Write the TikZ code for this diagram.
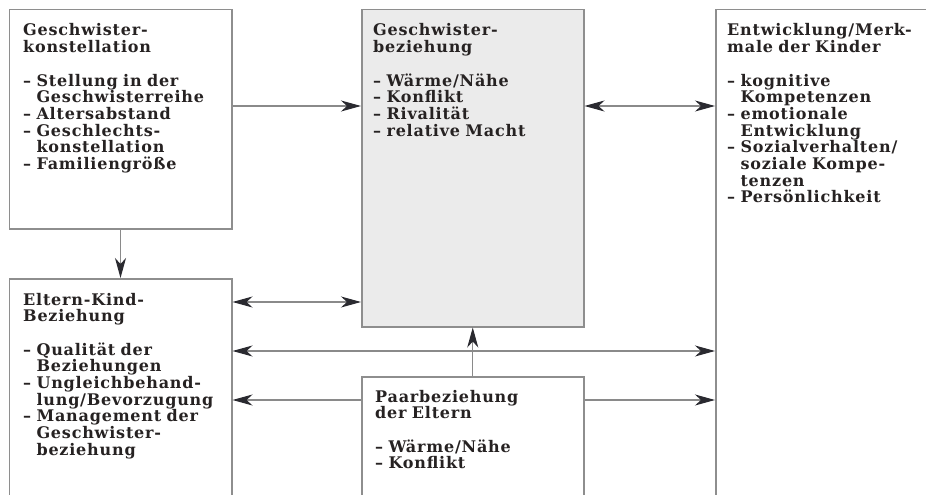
\documentclass[tikz,border=0pt]{standalone}
\usepackage{fontspec}
\setmainfont{DejaVu Serif}[LetterSpace=5]
\usetikzlibrary{arrows.meta,calc}
\definecolor{boxline}{HTML}{8E8E8E}
\definecolor{arrline}{HTML}{8A8A8A}
\definecolor{headcol}{HTML}{2A2A30}
\definecolor{txt}{HTML}{262222}
\definecolor{boxfill}{HTML}{EBEBEB}
\newcommand{\ind}{\phantom{– }}
\begin{document}
\begin{tikzpicture}[x=1pt,y=-1pt,
  boxstyle/.style={draw=boxline,line width=1.5pt,rectangle,inner sep=0pt,anchor=north west},
  txtstyle/.style={anchor=base west,inner sep=0pt,align=left,text width=215pt,text=txt,
    font=\bfseries\fontsize{16}{16.7}\selectfont},
  arr/.style={draw=arrline,line width=1.1pt,-{Stealth[length=20pt,width=11pt,inset=6pt,color=headcol]}},
  darr/.style={draw=arrline,line width=1.1pt,{Stealth[length=20pt,width=11pt,inset=6pt,color=headcol]}-{Stealth[length=20pt,width=11pt,inset=6pt,color=headcol]}}]
\useasboundingbox (0,0) rectangle (926,495);
\clip (0,0) rectangle (926,495);
\fill[white] (0,0) rectangle (926,495);
% boxes
\node[boxstyle,minimum width=222.5pt,minimum height=219pt] (b1) at (8.5,9) {};
\node[boxstyle,minimum width=222.5pt,minimum height=240pt] (b2) at (8.5,278) {};
\node[boxstyle,fill=boxfill,minimum width=222pt,minimum height=317pt] (b3) at (361,9) {};
\node[boxstyle,minimum width=222pt,minimum height=140pt] (b4) at (361,376) {};
\node[boxstyle,minimum width=240pt,minimum height=510pt] (b5) at (715,9) {};
% texts
\node[txtstyle] (t1) at ($(b1.north west)+(14.5,27)$) {Geschwister-\\konstellation\\[16.7pt]
– Stellung in der\\\ind Geschwisterreihe\\– Altersabstand\\– Geschlechts-\\\ind konstellation\\– Familiengröße};
\node[txtstyle] (t2) at ($(b2.north west)+(14.5,27)$) {Eltern-Kind-\\Beziehung\\[16.7pt]
– Qualität der\\\ind Beziehungen\\– Ungleichbehand-\\\ind lung/Bevorzugung\\– Management der\\\ind Geschwister-\\\ind beziehung};
\node[txtstyle] (t3) at ($(b3.north west)+(12,27)$) {Geschwister-\\beziehung\\[16.7pt]
– Wärme/Nähe\\– Konflikt\\– Rivalität\\– relative Macht};
\node[txtstyle] (t4) at ($(b4.north west)+(14,26)$) {Paarbeziehung\\der Eltern\\[16.7pt]
– Wärme/Nähe\\– Konflikt};
\node[txtstyle] (t5) at ($(b5.north west)+(12,27)$) {Entwicklung/Merk-\\male der Kinder\\[16.7pt]
– kognitive\\\ind Kompetenzen\\– emotionale\\\ind Entwicklung\\– Sozialverhalten/\\\ind soziale Kompe-\\\ind tenzen\\– Persönlichkeit};
% connectors
\draw[arr] (b1.east |- 0,106) -- (b3.west |- 0,106);
\draw[darr] (b3.east |- 0,106) -- (b5.west |- 0,106);
\draw[arr] (b1.south) -- (b2.north);
\draw[darr] (b2.east |- 0,302) -- (b3.west |- 0,302);
\draw[darr] (b2.east |- 0,351) -- (b5.west |- 0,351);
\draw[arr] (b4.north) -- (b3.south);
\draw[arr] (b4.west |- 0,400) -- (b2.east |- 0,400);
\draw[arr] (b4.east |- 0,400) -- (b5.west |- 0,400);
\end{tikzpicture}
\end{document}
